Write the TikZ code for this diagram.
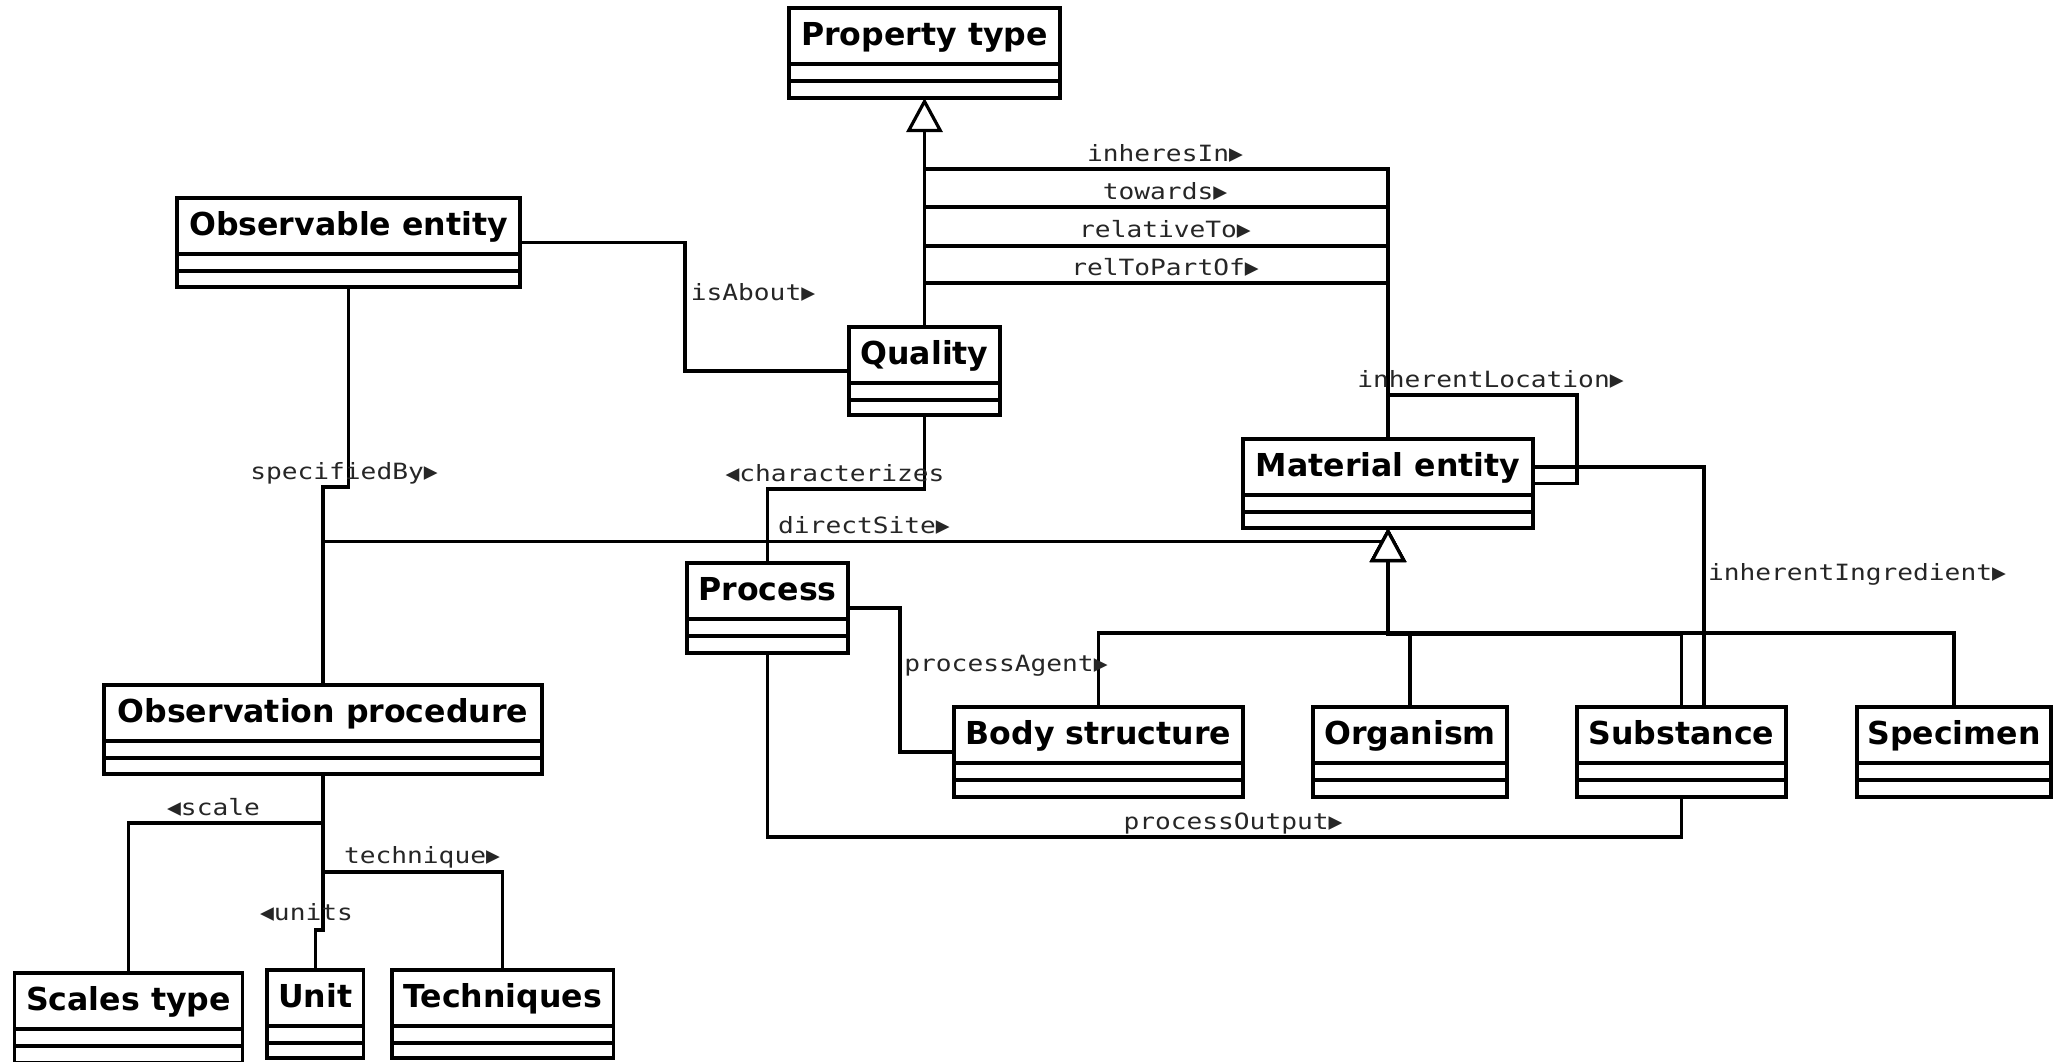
\documentclass[tikz,border=0pt]{standalone}
\usepackage{fontspec}
\setmainfont{DejaVu Sans}
\newfontfamily\lblfont[FakeStretch=1.17]{DejaVu Sans Mono}
\newfontfamily\trifont{DejaVu Sans Mono}
\newcommand\rtri{{\trifont\fontsize{11.5pt}{12pt}\selectfont ▶}}
\newcommand\ltri{{\trifont\fontsize{11.5pt}{12pt}\selectfont ◀}}
\usetikzlibrary{fit,arrows.meta,calc}
\newcommand\umlcls[6]{%
  \node[clsbox, fit={(#2,#3) (#4,#5)}] (#1) {};
  \node[clstext] (#1-t) at ($(#1.north)+(0,37.5)$) {#6};
  \draw[cmpline] ($(#1.north west)+(0,56)$) -- ($(#1.north east)+(0,56)$);
  \draw[cmpline] ($(#1.north west)+(0,73)$) -- ($(#1.north east)+(0,73)$);
}
\begin{document}
\begin{tikzpicture}[x=0.5pt,y=-0.5pt,
  clsbox/.style={draw, line width=1.6pt, inner sep=0pt, outer sep=0pt, fill=white},
  clstext/.style={font=\fontsize{15.8pt}{18pt}\selectfont\bfseries, inner sep=0pt, anchor=base},
  cmpline/.style={line width=1.6pt},
  lbl/.style={font=\lblfont\fontsize{11.2pt}{13pt}\selectfont, inner sep=0pt, anchor=base, text=black!85},
  conn/.style={line width=1.6pt},
  gen/.style={line width=1.6pt, -{Triangle[fill=white, length=17pt, width=18pt, line width=1.6pt]}}]
\useasboundingbox (0,0) rectangle (2056,1061);
\clip (0,0) rectangle (2056,1061);

% classes
\umlcls{pt}{789}{8}{1060}{98}{Property type}
\umlcls{oe}{177}{198}{520}{287}{Observable entity}
\umlcls{q}{849}{327}{1000}{415}{Quality}
\umlcls{me}{1243}{439}{1533}{528}{Material entity}
\umlcls{pr}{687}{563}{848}{653}{Process}
\umlcls{op}{104}{685}{542}{774}{Observation procedure}
\umlcls{bs}{954}{707}{1243}{797}{Body structure}
\umlcls{org}{1313}{707}{1507}{797}{Organism}
\umlcls{sub}{1577}{707}{1786}{797}{Substance}
\umlcls{spec}{1857}{707}{2051}{797}{Specimen}
\umlcls{st}{14.5}{973}{242.5}{1063}{Scales type}
\umlcls{un}{267}{970}{363.5}{1058}{Unit}
\umlcls{tq}{392}{970}{613.5}{1058}{Techniques}

% associations
\draw[conn] (q.north) |- (me.north |- 0,169) -- (me.north);
\draw[conn] (q.north) |- (me.north |- 0,207) -- (me.north);
\draw[conn] (q.north) |- (me.north |- 0,246) -- (me.north);
\draw[conn] (q.north) |- (me.north |- 0,283) -- (me.north);
\draw[conn] (oe.east) -| (685,371) -- (q.west);
\draw[conn] (oe.south) |- (op.north |- 0,487) -- (op.north);
\draw[conn] (op.north) |- (me.south |- 0,541.5);
\draw[conn] (q.south) |- (pr.north |- 0,489) -- (pr.north);
\draw[conn] (pr.east) -| (900,752) -- (bs.west);
\draw[conn] (pr.south) |- (sub.south |- 0,837) -- (sub.south);
\draw[conn] ([yshift=8.25pt]me.east) -| ([xshift=11.25pt]sub.north);
\draw[conn] (me.north) -- (me.north |- 0,395) -| (1577,483.5) -- (me.east);
\draw[conn] (op.south) |- (st.north |- 0,823) -- (st.north);
\draw[conn] (op.south) |- (tq.north |- 0,872) -- (tq.north);
\draw[conn] (op.south) |- (un.north |- 0,930) -- (un.north);

% generalizations
\draw[gen] (q.north) -- (pt.south);
\draw[gen] (bs.north) |- (me.south |- 0,633) -- (me.south);
\draw[gen] (org.north) |- (me.south |- 0,634) -- (me.south);
\draw[gen] (sub.north) |- (me.south |- 0,634) -- (me.south);
\draw[gen] (spec.north) |- (me.south |- 0,633) -- (me.south);

% labels
\node[lbl] (l-inh) at (1165,161) {inheresIn\rtri};
\node[lbl] (l-tow) at (1165,199) {towards\rtri};
\node[lbl] (l-rel) at (1165,237) {relativeTo\rtri};
\node[lbl] (l-rpo) at (1165,275) {relToPartOf\rtri};
\node[lbl] (l-isa) at (753,300) {isAbout\rtri};
\node[lbl] (l-spb) at (344,479) {specifiedBy\rtri};
\node[lbl] (l-chr) at (835,481) {\ltri characterizes};
\node[lbl] (l-dst) at (864,533) {directSite\rtri};
\node[lbl] (l-iloc) at (1490.5,387) {inherentLocation\rtri};
\node[lbl] (l-ing) at (1857,580) {inherentIngredient\rtri};
\node[lbl] (l-pag) at (1006,671) {processAgent\rtri};
\node[lbl] (l-pout) at (1233,829) {processOutput\rtri};
\node[lbl] (l-scl) at (213.5,815) {\ltri scale};
\node[lbl] (l-tec) at (422,863) {technique\rtri};
\node[lbl] (l-uni) at (306.5,920) {\ltri units};
\end{tikzpicture}
\end{document}
